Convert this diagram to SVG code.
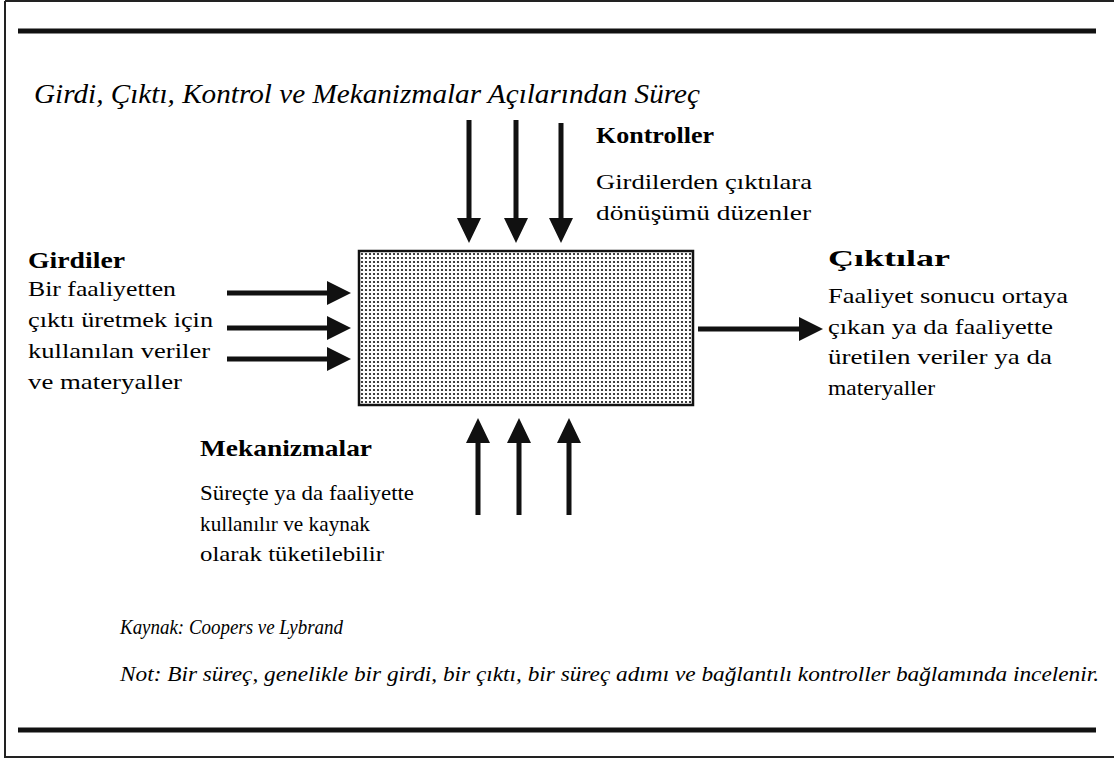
<svg xmlns="http://www.w3.org/2000/svg" width="1114" height="759" viewBox="0 0 1114 759">
<style>
.t{font-family:"Liberation Serif","Times New Roman",serif;fill:#000}
.b{font-weight:bold}
.i{font-style:italic}
.rule{stroke:#111;stroke-width:5}
.frame{stroke:#222;stroke-width:2;fill:none}
.sh{stroke:#111;stroke-width:5;fill:none}
.hd{fill:#111}
</style>
<defs>
<pattern id="dots" width="4" height="4" patternUnits="userSpaceOnUse">
<rect width="4" height="4" fill="#fff"/>
<circle cx="2" cy="2" r="1.1" fill="#111"/>
</pattern>
</defs>
<rect width="1114" height="759" fill="#fff"/>
<g id="frame">
<path class="frame" d="M5,1 H1114 M5,1 V757 H1114"/>
<line class="rule" x1="18" y1="31" x2="1096" y2="31"/>
<line class="rule" x1="18" y1="730" x2="1096" y2="730"/>
</g>
<g id="title"><text class="t i" x="34" y="103" font-size="28" textLength="666" lengthAdjust="spacingAndGlyphs">Girdi, Çıktı, Kontrol ve Mekanizmalar Açılarından Süreç</text></g>
<g id="process"><rect x="359" y="251" width="334" height="154" fill="url(#dots)" stroke="#111" stroke-width="2.5"/></g>
<g id="connectors">
<path class="sh" d="M469,120 V220 M516,120 V220 M561,123 V220"/>
<path class="hd" d="M457,218 L481,218 L469,243 Z M504,218 L528,218 L516,243 Z M549,218 L573,218 L561,243 Z"/>
<path class="sh" d="M478,515 V441 M519,515 V441 M569,515 V441"/>
<path class="hd" d="M466,443 L490,443 L478,418 Z M507,443 L531,443 L519,418 Z M557,443 L581,443 L569,418 Z"/>
<path class="sh" d="M227,293 H330 M227,328 H330 M227,359 H330"/>
<path class="hd" d="M327,281 L327,305 L351,293 Z M327,316 L327,340 L351,328 Z M327,347 L327,371 L351,359 Z"/>
<path class="sh" d="M698,329 H802"/>
<path class="hd" d="M799,317 L799,341 L823,329 Z"/>
</g>
<g id="kontroller" font-size="22">
<text class="t b" x="596" y="143" font-size="24" textLength="118" lengthAdjust="spacingAndGlyphs">Kontroller</text>
<text class="t" x="596" y="189" textLength="216" lengthAdjust="spacingAndGlyphs">Girdilerden çıktılara</text>
<text class="t" x="596" y="220" textLength="215" lengthAdjust="spacingAndGlyphs">dönüşümü düzenler</text>
</g>
<g id="girdiler" font-size="22">
<text class="t b" x="28" y="268" font-size="24" textLength="97" lengthAdjust="spacingAndGlyphs">Girdiler</text>
<text class="t" x="28" y="296" textLength="148" lengthAdjust="spacingAndGlyphs">Bir faaliyetten</text>
<text class="t" x="28" y="327" textLength="185" lengthAdjust="spacingAndGlyphs">çıktı üretmek için</text>
<text class="t" x="28" y="358" textLength="182" lengthAdjust="spacingAndGlyphs">kullanılan veriler</text>
<text class="t" x="28" y="389" textLength="154" lengthAdjust="spacingAndGlyphs">ve materyaller</text>
</g>
<g id="ciktilar" font-size="22">
<text class="t b" x="828" y="266" font-size="24" textLength="122" lengthAdjust="spacingAndGlyphs">Çıktılar</text>
<text class="t" x="828" y="303" textLength="240" lengthAdjust="spacingAndGlyphs">Faaliyet sonucu ortaya</text>
<text class="t" x="828" y="334" textLength="225" lengthAdjust="spacingAndGlyphs">çıkan ya da faaliyette</text>
<text class="t" x="828" y="364" textLength="224" lengthAdjust="spacingAndGlyphs">üretilen veriler ya da</text>
<text class="t" x="828" y="395" textLength="107" lengthAdjust="spacingAndGlyphs">materyaller</text>
</g>
<g id="mekanizmalar" font-size="22">
<text class="t b" x="200" y="456" font-size="24" textLength="172" lengthAdjust="spacingAndGlyphs">Mekanizmalar</text>
<text class="t" x="200" y="500" textLength="214" lengthAdjust="spacingAndGlyphs">Süreçte ya da faaliyette</text>
<text class="t" x="200" y="531" textLength="170" lengthAdjust="spacingAndGlyphs">kullanılır ve kaynak</text>
<text class="t" x="200" y="561" textLength="184" lengthAdjust="spacingAndGlyphs">olarak tüketilebilir</text>
</g>
<g id="notes">
<text class="t i" x="120" y="634" font-size="20" textLength="223" lengthAdjust="spacingAndGlyphs">Kaynak: Coopers ve Lybrand</text>
<text class="t i" x="120" y="681" font-size="21" textLength="979" lengthAdjust="spacingAndGlyphs">Not: Bir süreç, genelikle bir girdi, bir çıktı, bir süreç adımı ve bağlantılı kontroller bağlamında incelenir.</text>
</g>
</svg>
